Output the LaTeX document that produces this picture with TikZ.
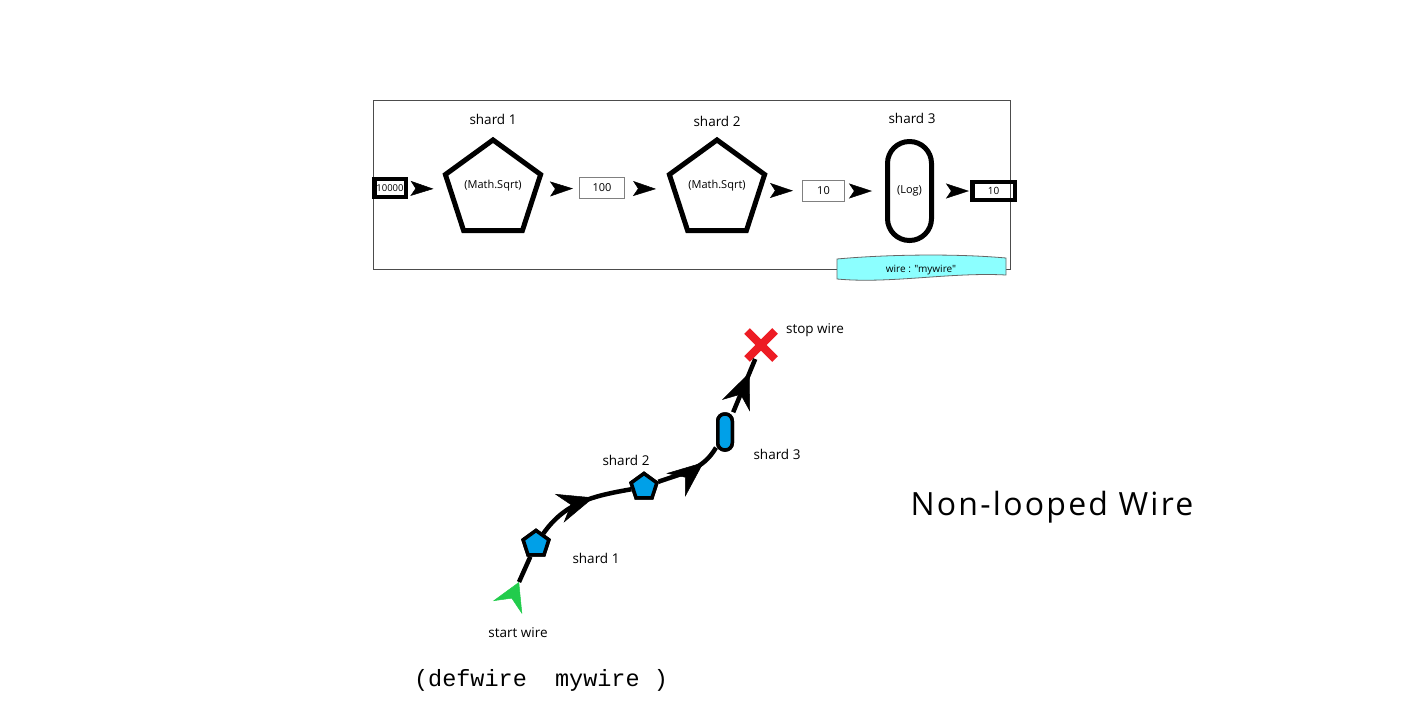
\documentclass[tikz,border=0pt]{standalone}
\usepackage{fontspec}
\setmainfont{Open Sans}
\setmonofont{Liberation Mono}
\usetikzlibrary{arrows.meta,shapes.geometric,shapes.misc,decorations.markings}

\definecolor{shardblue}{RGB}{0,160,232}
\definecolor{startgreen}{RGB}{34,204,76}
\definecolor{stopred}{RGB}{237,28,36}
\definecolor{wirecyan}{RGB}{140,255,255}

\tikzset{
  shard/.style={draw, line width=5pt, regular polygon, regular polygon sides=5,
    minimum size=100pt, inner sep=0pt, text height=8pt, text depth=12pt,
    font=\fontsize{11}{13}\selectfont},
  logshard/.style={draw, line width=5pt, minimum width=44pt, minimum height=99pt,
    rounded corners=21.9pt, inner sep=0pt, font=\fontsize{11}{13}\selectfont},
  valbox/.style={draw=gray, line width=1pt, minimum height=21pt, inner sep=0pt,
    font=\fontsize{11}{13}\selectfont},
  endbox/.style={draw, line width=4.5pt, minimum height=18pt, inner sep=0pt,
    font=\fontsize{10}{12}\selectfont},
  flow/.style 2 args={white, line width=0.4pt,
    -{Stealth[length=23pt, width=15pt, inset=5pt, color=black, line width=0.5pt]},
    shorten <=#1, shorten >=#2},
  lbl/.style={font=\fontsize{13.5}{16}\selectfont},
  minishard/.style={draw, fill=shardblue, line width=3.5pt, regular polygon,
    regular polygon sides=5, minimum size=27pt, inner sep=0pt},
  minilog/.style={draw, fill=shardblue, line width=3.5pt, minimum width=14.5pt,
    minimum height=36pt, rounded corners=7pt, inner sep=0pt},
  wire/.style={line width=4.5pt},
  wirearrow/.style={decoration={markings, mark=at position #1 with
    {\arrow{Stealth[length=36pt, width=30pt, inset=12pt, line width=0.5pt]}}},
    postaction={decorate}},
  startarrow/.style={decoration={markings, mark=at position 0 with
    {\arrow{Stealth[length=28pt, width=32pt, inset=10pt, color=startgreen, line width=0.5pt]}}},
    postaction={decorate}}
}

\begin{document}
\begin{tikzpicture}[x=1pt, y=-1pt]
\useasboundingbox (0,0) rectangle (1416,712);
\draw[draw=black!70, line width=1pt] (373,100) rectangle (1010,269);
\filldraw[fill=wirecyan, draw=black!60, line width=0.8pt]
  (837,259) .. controls (880,255) and (950,253) .. (1006,258) -- (1006,275)
  .. controls (950,272) and (890,284) .. (837,279) -- cycle;
\node[font=\fontsize{10}{12}\selectfont\addfontfeatures{Ligatures=TeXOff}] (wirelbl) at (921,270) {wire : "mywire"};

\node[endbox, minimum width=31.5pt, font=\fontsize{9.5}{11}\selectfont] (in) at (390,188) {10000};
\node[shard] (s1) at (493,190) {(Math.Sqrt)};
\node[lbl] at (493,119) {shard 1};
\node[valbox, minimum width=45pt] (b1) at (602,188) {100};
\node[shard] (s2) at (717,190) {(Math.Sqrt)};
\node[lbl] at (717,121) {shard 2};
\node[valbox, minimum width=42pt] (b2) at (823.5,191) {10};
\node[logshard] (s3) at (909.5,191) {(Log)};
\node[lbl] at (912,118) {shard 3};
\node[endbox, minimum width=42.5pt] (out) at (993.5,191) {10};
\draw[flow={1pt}{14pt}] (in) -- (s1);
\draw[flow={9.5pt}{6pt}] (s1) -- (b1);
\draw[flow={6pt}{15.5pt}] (b1) -- (s2);
\draw[flow={6.5pt}{9pt}] (s2) -- (b2);
\draw[flow={2pt}{13pt}] (b2) -- (s3);
\draw[flow={11pt}{1pt}] (s3) -- (out);

\coordinate (sw) at (519,582);
\node[minishard] (p1) at (536,544) {};
\node[minishard] (p2) at (644,487) {};
\node[minilog] (q3) at (725,432) {};
\node[cross out, draw=stopred, line width=8pt, minimum size=20pt, inner sep=0pt] (stop) at (761,345) {};
\draw[wire, startarrow] (sw) -- (p1);
\draw[wire, wirearrow=0.62] (p1) to[out=55, in=190] (p2);
\draw[wire, wirearrow=0.72] (p2) to[out=20, in=240] (q3);
\draw[wire, wirearrow=0.75] (q3) -- (stop);
\node[minishard] at (p1) {};
\node[minishard] at (p2) {};
\node[minilog] at (q3) {};
\node[lbl] at (596,558) {shard 1};
\node[lbl] at (626,460) {shard 2};
\node[lbl] at (777,454) {shard 3};
\node[lbl] at (518,633) {start wire};
\node[lbl] at (815,330) {stop wire};
\node[font=\fontsize{32}{38}\selectfont\addfontfeature{LetterSpace=7}] (title) at (1052,507) {Non-looped Wire};
\node[font=\ttfamily\fontsize{23.5}{28}\selectfont] (code) at (541,680) {(defwire\ \ mywire\ )};
\end{tikzpicture}
\end{document}
